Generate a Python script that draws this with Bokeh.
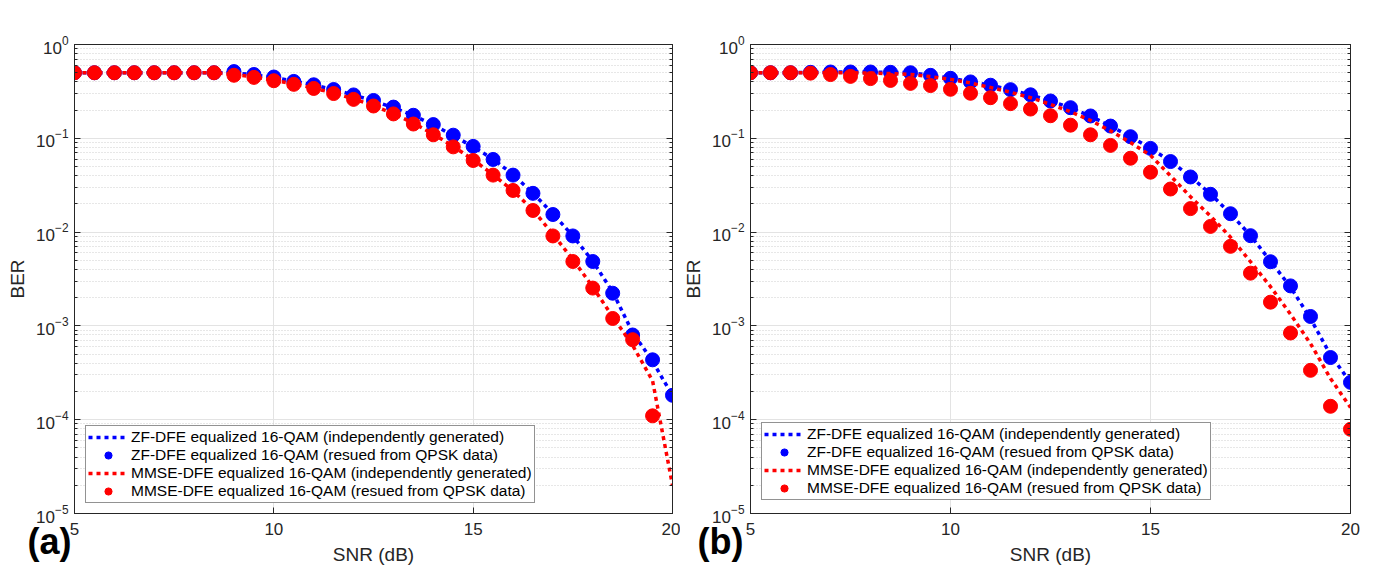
from bokeh.plotting import figure
from bokeh.layouts import row
from bokeh.models import (Range1d, FixedTicker, LogTicker, LinearAxis, LogAxis,
                          Legend, LegendItem, CustomJSTickFormatter)
from bokeh.embed import file_html
from bokeh.resources import INLINE

# SNR grid (dB)
snr = [5, 5.5, 6, 6.5, 7, 7.5, 8, 8.5, 9, 9.5, 10, 10.5, 11, 11.5, 12, 12.5,
       13, 13.5, 14, 14.5, 15, 15.5, 16, 16.5, 17, 17.5, 18, 18.5, 19, 19.5, 20]

# Panel (a)
a_zf_line = [0.5, 0.5, 0.5, 0.5, 0.5, 0.5, 0.5, 0.5, 0.5, 0.475, 0.445, 0.408,
             0.37, 0.33, 0.29, 0.25, 0.212, 0.175, 0.139, 0.107, 0.081, 0.06,
             0.041, 0.026, 0.0157, 0.0091, 0.0049, 0.0023, 0.00085, 0.00042, 0.00018]
a_zf_dots = [0.5, 0.5, 0.5, 0.5, 0.5, 0.5, 0.5, 0.5, 0.514, 0.479, 0.45, 0.404,
             0.372, 0.331, 0.29, 0.253, 0.215, 0.176, 0.14, 0.108, 0.082, 0.0595,
             0.0405, 0.0259, 0.0154, 0.0091, 0.00486, 0.00223, 0.0008, 0.000435, 0.000182]
a_mmse_line = [0.5, 0.5, 0.5, 0.5, 0.5, 0.5, 0.5, 0.5, 0.48, 0.45, 0.415, 0.38,
               0.343, 0.303, 0.263, 0.223, 0.183, 0.145, 0.111, 0.082, 0.059, 0.041,
               0.0275, 0.0172, 0.0095, 0.0051, 0.0026, 0.00125, 0.00062, 0.00026, 0.00002]
a_mmse_dots = [0.5, 0.5, 0.5, 0.5, 0.5, 0.5, 0.5, 0.5, 0.47, 0.446, 0.411, 0.376,
               0.34, 0.3, 0.26, 0.221, 0.182, 0.142, 0.109, 0.081, 0.058, 0.0405,
               0.0278, 0.017, 0.0091, 0.00486, 0.00253, 0.0012, 0.000713, 0.00011, float("nan")]

# Panel (b)
b_zf_line = [0.5, 0.5, 0.5, 0.505, 0.508, 0.508, 0.508, 0.505, 0.5, 0.47, 0.437, 0.4,
             0.367, 0.33, 0.29, 0.25, 0.211, 0.172, 0.135, 0.104, 0.078, 0.057,
             0.039, 0.0255, 0.0157, 0.0092, 0.0049, 0.0026, 0.0012, 0.00049, 0.00025]
b_zf_dots = [0.5, 0.5, 0.5, 0.505, 0.509, 0.509, 0.509, 0.505, 0.5, 0.469, 0.436, 0.399,
             0.368, 0.33, 0.291, 0.25, 0.212, 0.173, 0.135, 0.104, 0.078, 0.0565,
             0.0387, 0.0253, 0.0157, 0.00916, 0.00483, 0.00267, 0.00126, 0.00046, 0.00025]
b_mmse_line = [0.5, 0.5, 0.5, 0.5, 0.5, 0.5, 0.495, 0.49, 0.48, 0.455, 0.425, 0.389,
               0.348, 0.31, 0.271, 0.23, 0.192, 0.155, 0.12, 0.09, 0.0658, 0.0398,
               0.0238, 0.0148, 0.00883, 0.00483, 0.00262, 0.00133, 0.000648, 0.000275, 0.000135]
b_mmse_dots = [0.5, 0.5, 0.5, 0.495, 0.478, 0.457, 0.433, 0.414, 0.385, 0.365, 0.333, 0.302,
               0.271, 0.234, 0.205, 0.174, 0.138, 0.109, 0.084, 0.0613, 0.0435, 0.0288,
               0.0178, 0.0115, 0.00705, 0.00365, 0.00179, 0.00084, 0.000336, 0.000139, 0.000079]

legend_labels = [
    "ZF-DFE equalized 16-QAM (independently generated)",
    "ZF-DFE equalized 16-QAM (resued from QPSK data)",
    "MMSE-DFE equalized 16-QAM (independently generated)",
    "MMSE-DFE equalized 16-QAM (resued from QPSK data)",
]
x_ticks = [5, 10, 15, 20]

FONT = "Liberation Sans"
AX = "#262626"
BLUE = "#0000ff"
RED = "#ff0000"
NBSP = "\u00a0"


def make_panel(tag, pad, zf_line, zf_dots, mmse_line, mmse_dots, width, left, right, leg_xy):
    p = figure(width=width, height=573, y_axis_type="log",
               x_range=Range1d(5, 20), y_range=Range1d(1e-5, 1),
               output_backend="svg", toolbar_location=None,
               min_border_left=left, min_border_right=right,
               min_border_top=44, min_border_bottom=60)
    p.outline_line_color = None
    p.background_fill_color = "white"
    p.border_fill_color = "white"

    # axes
    xa = p.xaxis[0]
    xa.ticker = FixedTicker(ticks=x_ticks)
    xa.axis_label = "SNR (dB)"
    ya = p.yaxis[0]
    ya.ticker = LogTicker(num_minor_ticks=10)
    ya.axis_label = "BER"
    for ax in (xa, ya):
        ax.axis_line_color = AX
        ax.major_tick_line_color = AX
        ax.minor_tick_line_color = AX
        ax.major_tick_in = 6
        ax.major_tick_out = 0
        ax.minor_tick_in = 3
        ax.minor_tick_out = 0
        ax.major_label_text_font = FONT
        ax.major_label_text_font_size = "17px"
        ax.major_label_text_color = AX
        ax.axis_label_text_font = FONT
        ax.axis_label_text_font_size = "19px"
        ax.axis_label_text_font_style = "normal"
        ax.axis_label_text_color = AX
    xa.minor_tick_line_color = None
    xa.major_label_standoff = 9
    xa.axis_label_standoff = 6
    ya.major_label_standoff = 6
    ya.axis_label_standoff = 5

    blank = CustomJSTickFormatter(code="return ''")
    top = LinearAxis(ticker=FixedTicker(ticks=x_ticks), formatter=blank,
                     axis_line_color=AX, major_tick_line_color=AX,
                     major_tick_in=6, major_tick_out=0, minor_tick_line_color=None,
                     major_label_text_font_size="1px")
    rgt = LogAxis(ticker=LogTicker(num_minor_ticks=10), formatter=blank,
                  axis_line_color=AX, major_tick_line_color=AX, minor_tick_line_color=AX,
                  major_tick_in=6, major_tick_out=0, minor_tick_in=3, minor_tick_out=0,
                  major_label_text_font_size="1px")
    p.add_layout(top, "above")
    p.add_layout(rgt, "right")

    # panel tag, hung off the left end of the SNR axis
    tag_axis = LinearAxis(ticker=FixedTicker(ticks=[5]),
                          major_label_overrides={5: tag + NBSP * pad},
                          axis_line_color=None, major_tick_line_color=None,
                          minor_tick_line_color=None,
                          major_label_standoff=-53,
                          major_label_text_font=FONT,
                          major_label_text_font_size="36px",
                          major_label_text_font_style="bold",
                          major_label_text_color="#000000")
    p.add_layout(tag_axis, "below")

    # grids
    p.xgrid.ticker = FixedTicker(ticks=x_ticks)
    p.xgrid.grid_line_color = "#e3e3e3"
    p.ygrid.grid_line_color = "#e3e3e3"
    p.ygrid.minor_grid_line_color = "#cfcfcf"
    p.ygrid.minor_grid_line_dash = "1 2"

    r1 = p.line(snr, zf_line, line_color=BLUE, line_width=3.5, line_dash="4 4")
    r2 = p.scatter(snr, zf_dots, size=14, fill_color=BLUE, line_color=BLUE)
    r3 = p.line(snr, mmse_line, line_color=RED, line_width=3.5, line_dash="4 4")
    r4 = p.scatter(snr, mmse_dots, size=14, fill_color=RED, line_color=RED)

    legend = Legend(items=[LegendItem(label=legend_labels[0], renderers=[r1]),
                           LegendItem(label=legend_labels[1], renderers=[r2]),
                           LegendItem(label=legend_labels[2], renderers=[r3]),
                           LegendItem(label=legend_labels[3], renderers=[r4])],
                    location=leg_xy, margin=0, padding=2, spacing=0,
                    glyph_width=40, glyph_height=18, label_height=18,
                    label_standoff=3,
                    label_text_font=FONT, label_text_font_size="15.5px",
                    label_text_color="#000000",
                    border_line_color=AX, border_line_width=1,
                    background_fill_color="white", background_fill_alpha=1.0)
    p.add_layout(legend, "center")
    return p


pa = make_panel("(a)", 5, a_zf_line, a_zf_dots, a_mmse_line, a_mmse_dots,
                width=680, left=74, right=8, leg_xy=(11, 10))
pb = make_panel("(b)", 6, b_zf_line, b_zf_dots, b_mmse_line, b_mmse_dots,
                width=695, left=69, right=25, leg_xy=(11, 13))

layout = row(pa, pb)
open("out.html", "w").write(file_html(layout, INLINE))
